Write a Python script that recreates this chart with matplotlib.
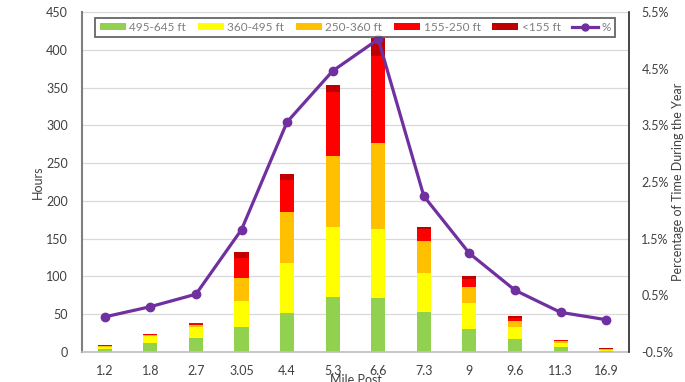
import matplotlib
matplotlib.use("Agg")
import matplotlib.pyplot as plt
import numpy as np
from matplotlib.lines import Line2D
from matplotlib.patches import Patch

plt.rcParams.update({"font.family": ["Lato", "DejaVu Sans"], "font.size": 9})

# ---- data
mile_post = ["1.2", "1.8", "2.7", "3.05", "4.4", "5.3", "6.6", "7.3", "9", "9.6", "11.3", "16.9"]
h_495_645 = [3.5, 11.5, 19, 33.5, 52, 72.5, 71, 53, 31, 17, 6.2, 1.7]
h_360_495 = [3.0, 9.2, 13.6, 34.5, 65.5, 93.3, 91.6, 51.6, 33.4, 16.5, 6.1, 1.3]
h_250_360 = [1.5, 1.6, 3.4, 30.5, 67.5, 94.2, 114, 42.8, 22.1, 8.0, 1.7, 0.8]
h_155_250 = [0.8, 1.2, 2.0, 26.5, 42.6, 84, 115, 15, 9.5, 3.5, 1.5, 0.6]
h_lt155 = [0.3, 0.5, 0.8, 8.0, 8.0, 9.0, 23.8, 3.4, 4.6, 2.6, 0.8, 0.4]
pct = [0.12, 0.30, 0.52, 1.66, 3.56, 4.46, 5.02, 2.25, 1.24, 0.59, 0.20, 0.07]

series = [("495-645 ft", h_495_645, "#92D050"),
          ("360-495 ft", h_360_495, "#FFFF00"),
          ("250-360 ft", h_250_360, "#FFC000"),
          ("155-250 ft", h_155_250, "#FF0000"),
          ("<155 ft", h_lt155, "#C00000")]
C_PCT = "#7030A0"
TXT = "#404040"

fig = plt.figure(figsize=(6.85, 3.82), dpi=100)
ax1 = fig.add_axes([0.1197, 0.0785, 0.7985, 0.8901])
x = np.arange(len(mile_post))

bottom = np.zeros(len(mile_post))
for name, vals, col in series:
    ax1.bar(x, vals, width=0.31, bottom=bottom, color=col, zorder=2)
    bottom += np.array(vals)

ax1.set_ylim(0, 450)
ax1.set_yticks(np.arange(0, 451, 50))
ax1.set_xlim(-0.5, len(mile_post) - 0.5)
ax1.set_xticks(x)
ax1.set_xticklabels(mile_post)
ax1.yaxis.grid(True, color="#D9D9D9", lw=0.9, zorder=0)
ax1.set_axisbelow(True)
ax1.tick_params(axis="both", length=0, colors=TXT, labelsize=9)
ax1.tick_params(axis="x", pad=9)
ax1.tick_params(axis="y", pad=10)
for s in ("top", "right"):
    ax1.spines[s].set_visible(False)
ax1.spines["left"].set_color("#7F7F7F")
ax1.spines["left"].set_linewidth(1.5)
ax1.spines["bottom"].set_color("#BFBFBF")
ax1.spines["bottom"].set_linewidth(1.2)
ax1.set_ylabel("Hours", color=TXT, fontsize=9, labelpad=2)
ax1.set_xlabel("Mile Post", color=TXT, fontsize=9, labelpad=-2)

ax2 = ax1.twinx()
ax2.plot(x, pct, "-o", color=C_PCT, lw=2.3, markersize=6, zorder=5)
ax2.set_ylim(-0.5, 5.5)
ax2.set_yticks(np.arange(-0.5, 5.51, 1.0))
ax2.set_yticklabels([f"{v:.1f}%" for v in np.arange(-0.5, 5.51, 1.0)])
ax2.tick_params(axis="y", length=0, colors=TXT, labelsize=9, pad=9)
for s in ("top", "left", "bottom"):
    ax2.spines[s].set_visible(False)
ax2.spines["right"].set_color("#262626")
ax2.spines["right"].set_linewidth(1.2)
ax2.set_ylabel("Percentage of Time During the Year", color=TXT, fontsize=9, labelpad=-1)

handles = [Patch(facecolor=c, label=n) for n, _, c in series]
handles.append(Line2D([], [], color=C_PCT, lw=2.3, marker="o", markersize=5, label="%"))
leg = ax2.legend(handles=handles, ncol=6, loc="upper center",
                 bbox_to_anchor=(0.5, 1.0), frameon=True, fancybox=False,
                 edgecolor="#404040", fontsize=8.5, handlelength=2.2,
                 handleheight=0.55, columnspacing=1.0, handletextpad=0.3,
                 borderpad=0.35, labelcolor="#7F7F7F")
leg.get_frame().set_linewidth(1.3)

fig.savefig("out.png", dpi=100)
